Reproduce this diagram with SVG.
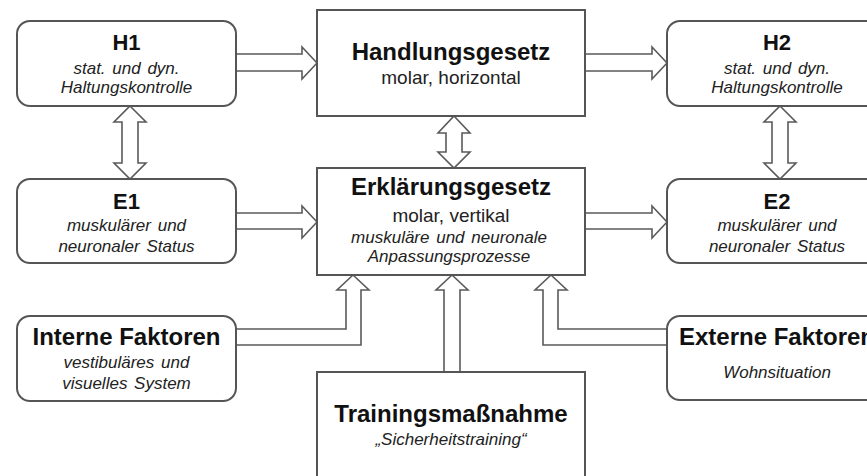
<svg xmlns="http://www.w3.org/2000/svg" width="867" height="476" viewBox="0 0 867 476">
<style>
.box{fill:#fff;stroke:#555;stroke-width:2}
.arr{fill:#fff;stroke:#5a5a5a;stroke-width:1.6;stroke-linejoin:miter}
text{font-family:"Liberation Sans",Arial,sans-serif;text-anchor:middle}
.t{font-weight:bold;font-size:22px;fill:#111}
.tb{font-weight:bold;font-size:24px;fill:#111}
.s{font-style:italic;font-size:17px;fill:#222;word-spacing:2px}
.r{font-size:19px;fill:#222}
</style>
<rect width="867" height="476" fill="#fff"/>
<g id="connectors">
<path class="arr" d="M236,54 H302 V47 L317,63 L302,79 V71 H236"/>
<path class="arr" d="M585,54 H652 V47 L667,63 L652,79 V71 H585"/>
<path class="arr" d="M236,213 H302 V206 L317,222 L302,238 V229 H236"/>
<path class="arr" d="M585,213 H652 V206 L667,222 L652,238 V229 H585"/>
<path class="arr" d="M130,106 L146,122 H138 V163 H146 L130,179 L114,163 H122 V122 H114 Z"/>
<path class="arr" d="M780,106 L796,122 H788 V163 H796 L780,179 L764,163 H772 V122 H764 Z"/>
<path class="arr" d="M454,116 L470,133 H462 V152 H470 L454,168 L438,152 H446 V133 H438 Z"/>
<path class="arr" d="M236,329 H346 V290 H337 L353,275 L369,290 H361 V345 H236"/>
<path class="arr" d="M667,329 H558 V290 H567 L551,275 L535,290 H543 V345 H667"/>
<path class="arr" d="M444,372 V290 H436 L452,275 L468,290 H460 V372"/>
</g>
<g id="H1">
<rect class="box" x="17" y="21" width="219" height="85" rx="13"/>
<text class="t" x="126.5" y="50">H1</text>
<text class="s" x="126.5" y="74">stat. und dyn.</text>
<text class="s" x="126.5" y="93">Haltungskontrolle</text>
</g>
<g id="Handlungsgesetz">
<rect class="box" x="317" y="10" width="268" height="106"/>
<text class="tb" x="451" y="60">Handlungsgesetz</text>
<text class="r" x="451" y="84">molar, horizontal</text>
</g>
<g id="H2">
<rect class="box" x="667" y="21" width="220" height="85" rx="13"/>
<text class="t" x="777" y="50">H2</text>
<text class="s" x="777" y="74">stat. und dyn.</text>
<text class="s" x="777" y="93">Haltungskontrolle</text>
</g>
<g id="E1">
<rect class="box" x="17" y="179" width="219" height="84" rx="13"/>
<text class="t" x="126.5" y="209">E1</text>
<text class="s" x="126.5" y="231">muskulärer und</text>
<text class="s" x="126.5" y="252">neuronaler Status</text>
</g>
<g id="Erklaerungsgesetz">
<rect class="box" x="317" y="168" width="268" height="107"/>
<text class="tb" x="451" y="195">Erklärungsgesetz</text>
<text class="r" x="451" y="222">molar, vertikal</text>
<text class="s" x="449" y="243">muskuläre und neuronale</text>
<text class="s" x="449" y="262">Anpassungsprozesse</text>
</g>
<g id="E2">
<rect class="box" x="667" y="179" width="220" height="84" rx="13"/>
<text class="t" x="777" y="209">E2</text>
<text class="s" x="777" y="231">muskulärer und</text>
<text class="s" x="777" y="252">neuronaler Status</text>
</g>
<g id="InterneFaktoren">
<rect class="box" x="17" y="316" width="219" height="85" rx="13"/>
<text class="tb" x="126.5" y="345">Interne Faktoren</text>
<text class="s" x="126.5" y="368">vestibuläres und</text>
<text class="s" x="126.5" y="389">visuelles System</text>
</g>
<g id="ExterneFaktoren">
<rect class="box" x="667" y="316" width="220" height="84" rx="13"/>
<text class="tb" x="777" y="345">Externe Faktoren</text>
<text class="s" x="777" y="378">Wohnsituation</text>
</g>
<g id="Trainingsmassnahme">
<rect class="box" x="317" y="372" width="268" height="120"/>
<text class="tb" x="451" y="422">Trainingsmaßnahme</text>
<text class="s" x="451" y="445">„Sicherheitstraining“</text>
</g>
</svg>
